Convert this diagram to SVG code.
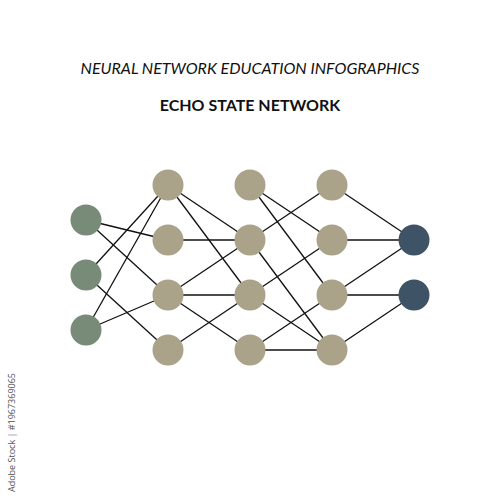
<svg xmlns="http://www.w3.org/2000/svg" width="500" height="500" viewBox="0 0 500 500">
<style>
.t1{font-family:Lato,"Open Sans","Liberation Sans",sans-serif;font-style:italic;font-size:16px;fill:#111;text-anchor:middle}
.t2{font-family:Lato,"Open Sans","Liberation Sans",sans-serif;font-weight:bold;font-size:16px;fill:#111;text-anchor:middle}
.side{font-family:"Open Sans","Liberation Sans",sans-serif;font-size:9px;fill:#555}
.e line{stroke:#111;stroke-width:1.3}
.in{fill:#788b78}
.hid{fill:#aaa38a}
.out{fill:#3f5366}
</style>
<rect width="500" height="500" fill="#fff"/>
<text class="t1" x="250" y="74">NEURAL NETWORK EDUCATION INFOGRAPHICS</text>
<text class="t2" x="250" y="111">ECHO STATE NETWORK</text>
<text class="side" transform="translate(15,492) rotate(-90)">Adobe Stock | #1967369065</text>
<g id="connectors" class="e">
<line x1="86" y1="220" x2="168" y2="240"/>
<line x1="86" y1="220" x2="168" y2="295"/>
<line x1="86" y1="275" x2="168" y2="185"/>
<line x1="86" y1="275" x2="168" y2="350"/>
<line x1="86" y1="330" x2="168" y2="185"/>
<line x1="86" y1="330" x2="168" y2="295"/>
<line x1="168" y1="185" x2="250" y2="240"/>
<line x1="168" y1="185" x2="250" y2="295"/>
<line x1="168" y1="240" x2="250" y2="240"/>
<line x1="168" y1="295" x2="250" y2="240"/>
<line x1="168" y1="295" x2="250" y2="295"/>
<line x1="168" y1="295" x2="250" y2="350"/>
<line x1="168" y1="350" x2="250" y2="295"/>
<line x1="250" y1="185" x2="332" y2="240"/>
<line x1="250" y1="185" x2="332" y2="295"/>
<line x1="250" y1="240" x2="332" y2="185"/>
<line x1="250" y1="240" x2="332" y2="350"/>
<line x1="250" y1="295" x2="332" y2="240"/>
<line x1="250" y1="295" x2="332" y2="350"/>
<line x1="250" y1="350" x2="332" y2="295"/>
<line x1="250" y1="350" x2="332" y2="350"/>
<line x1="332" y1="185" x2="414" y2="240"/>
<line x1="332" y1="240" x2="414" y2="240"/>
<line x1="332" y1="295" x2="414" y2="240"/>
<line x1="332" y1="295" x2="414" y2="295"/>
<line x1="332" y1="350" x2="414" y2="295"/>
</g>
<g id="in1"><circle class="in" cx="86" cy="220" r="15.5"/></g>
<g id="in2"><circle class="in" cx="86" cy="275" r="15.5"/></g>
<g id="in3"><circle class="in" cx="86" cy="330" r="15.5"/></g>
<g id="h1a"><circle class="hid" cx="168" cy="185" r="15.5"/></g>
<g id="h1b"><circle class="hid" cx="168" cy="240" r="15.5"/></g>
<g id="h1c"><circle class="hid" cx="168" cy="295" r="15.5"/></g>
<g id="h1d"><circle class="hid" cx="168" cy="350" r="15.5"/></g>
<g id="h2a"><circle class="hid" cx="250" cy="185" r="15.5"/></g>
<g id="h2b"><circle class="hid" cx="250" cy="240" r="15.5"/></g>
<g id="h2c"><circle class="hid" cx="250" cy="295" r="15.5"/></g>
<g id="h2d"><circle class="hid" cx="250" cy="350" r="15.5"/></g>
<g id="h3a"><circle class="hid" cx="332" cy="185" r="15.5"/></g>
<g id="h3b"><circle class="hid" cx="332" cy="240" r="15.5"/></g>
<g id="h3c"><circle class="hid" cx="332" cy="295" r="15.5"/></g>
<g id="h3d"><circle class="hid" cx="332" cy="350" r="15.5"/></g>
<g id="out1"><circle class="out" cx="414" cy="240" r="15.5"/></g>
<g id="out2"><circle class="out" cx="414" cy="295" r="15.5"/></g>
</svg>
